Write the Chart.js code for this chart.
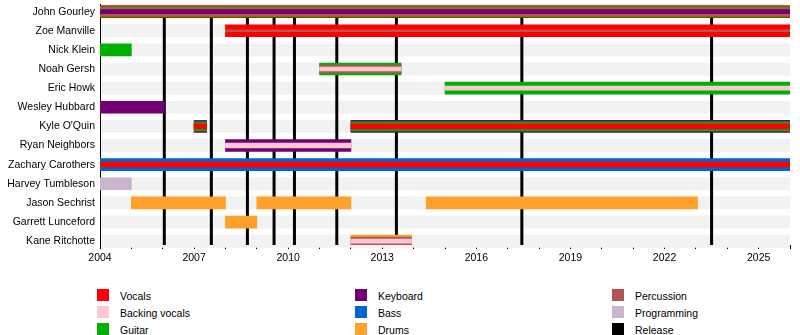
<!DOCTYPE html>
<html><head><meta charset="utf-8">
<script src="https://cdn.jsdelivr.net/npm/chart.js@4.4.1/dist/chart.umd.min.js"></script>
<style>
html,body{margin:0;padding:0;background:#fff;}
#wrap{position:relative;width:800px;height:335px;font-family:"Liberation Sans",Arial,sans-serif;overflow:hidden;}
#c{position:absolute;left:0;top:0;}
.lt{position:absolute;font-size:10.5px;color:#000;line-height:12px;white-space:nowrap;}
.sw{position:absolute;width:12px;height:12px;}
</style></head><body>
<div id="wrap"><canvas id="c" width="800" height="270"></canvas><div id="legend"></div></div>
<script>
// ---- data ----
const members = ["John Gourley","Zoe Manville","Nick Klein","Noah Gersh","Eric Howk","Wesley Hubbard","Kyle O'Quin","Ryan Neighbors","Zachary Carothers","Harvey Tumbleson","Jason Sechrist","Garrett Lunceford","Kane Ritchotte"];
const instruments = ["Vocals","Backing vocals","Guitar","Keyboard","Bass","Drums","Percussion","Programming","Release"];
const spanMember = [0,1,2,3,4,5,6,6,7,8,9,10,10,10,11,12];
const spanStart  = [2004,2008,2004,2011,2015,2004,2007,2012,2008,2004,2004,2005,2009,2014.4,2008,2012];
const spanEnd    = [2026,2026,2005,2013.6,2026,2006.05,2007.4,2026,2012,2026,2005,2008,2012,2023.05,2009,2013.93];
const spanRoles  = [
  ["Vocals","Guitar","Percussion","Keyboard"],
  ["Vocals","Percussion"],
  ["Guitar"],
  ["Guitar","Percussion","Backing vocals"],
  ["Guitar","Backing vocals"],
  ["Keyboard"],
  ["Keyboard","Guitar","Vocals"],
  ["Keyboard","Guitar","Vocals"],
  ["Keyboard","Backing vocals"],
  ["Bass","Vocals"],
  ["Programming"],
  ["Drums"],["Drums"],["Drums"],
  ["Drums"],
  ["Drums","Percussion","Backing vocals"]
];
const releaseYears = [2006.05,2007.55,2008.7,2009.55,2010.2,2011.55,2013.45,2017.45,2023.5];
const yearRange = [2004,2026];
const labelYears = [2004,2007,2010,2013,2016,2019,2022,2025];

// ---- styles ----
const colors = {"Vocals":"#ff0000","Backing vocals":"#ffc8d0","Guitar":"#00b000","Keyboard":"#730073","Bass":"#0066cc","Drums":"#ffa02a","Percussion":"#b35555","Programming":"#c9b5cd","Release":"#000000"};
const layerThick = {1:[12],2:[12,5],3:[12,8,4],4:[12,10,8,4]};
const thickOverride = {1:[12,2], 4:[12,4], 6:[12,9,5]};

const datasets = [];
spanMember.forEach((m,i)=>{
  const roles = spanRoles[i];
  const th = thickOverride[m] || layerThick[roles.length];
  roles.forEach((r,d)=>{
    datasets.push({label:r, data:[{x:[spanStart[i],spanEnd[i]], y:m}],
      backgroundColor:colors[r], borderWidth:0, barThickness:th[d], grouped:false, order:10-d});
  });
});

const bgPlugin = {id:'bg', beforeDatasetsDraw(chart){
  const {ctx, chartArea:a, scales:{x,y}} = chart;
  ctx.save();
  ctx.fillStyle = '#f2f2f2';
  const x0 = x.getPixelForValue(yearRange[0]), x1 = x.getPixelForValue(yearRange[1]);
  members.forEach((_,i)=>{ const yc = y.getPixelForValue(i); ctx.fillRect(x0+1, yc-6.5, x1-x0-1, 13); });
  ctx.fillStyle = '#000';
  const top = y.getPixelForValue(0);
  releaseYears.forEach(r=>{ const px = x.getPixelForValue(r); ctx.fillRect(px-1.5, top, 3, a.bottom-top); });
  ctx.restore();
}};

const font = {family:'"Liberation Sans", Arial, sans-serif', size:10.5};
new Chart(document.getElementById('c'), {
  type:'bar',
  data:{datasets},
  options:{
    indexAxis:'y', responsive:false, animation:false, devicePixelRatio:1,
    layout:{padding:{top:4,right:10,left:0,bottom:0}},
    plugins:{legend:{display:false}, tooltip:{enabled:false}},
    scales:{
      x:{type:'linear', min:yearRange[0], max:yearRange[1], offset:false, bounds:'data',
        grid:{display:true, offset:false, drawOnChartArea:false, drawTicks:true, tickLength:4, color:'#000'},
        border:{display:true, color:'#000', width:1},
        ticks:{stepSize:1, autoSkip:false, maxRotation:0, color:'#000', font, padding:3,
          callback:v=>labelYears.includes(v)?String(v):''},
        afterFit:s=>{s.height=25;}},
      y:{type:'linear', reverse:true, min:-0.4, max:12.2, offset:false, bounds:'data',
        grid:{display:false, offset:false, drawTicks:false},
        border:{display:true, color:'#000', width:1},
        afterBuildTicks:s=>{s.ticks = members.map((_,i)=>({value:i}));},
        ticks:{color:'#000', font, padding:5, autoSkip:false, callback:v=>members[v]},
        afterFit:s=>{s.width=100; s.paddingTop=0; s.paddingBottom=0;}}
    }
  },
  plugins:[bgPlugin]
});

// legend (column-major, 3 columns)
const lg = document.getElementById('legend');
const colX = [97,355,612], rowY = [289,306,323];
instruments.forEach((name,i)=>{
  const c = Math.floor(i/3), r = i%3;
  const sw = document.createElement('div'); sw.className='sw';
  sw.style.left = colX[c]+'px'; sw.style.top = rowY[r]+'px'; sw.style.background = colors[name];
  const t = document.createElement('div'); t.className='lt';
  t.style.left = (colX[c]+23)+'px'; t.style.top = (rowY[r]+1)+'px'; t.textContent = name;
  lg.appendChild(sw); lg.appendChild(t);
});
</script>
</body></html>
